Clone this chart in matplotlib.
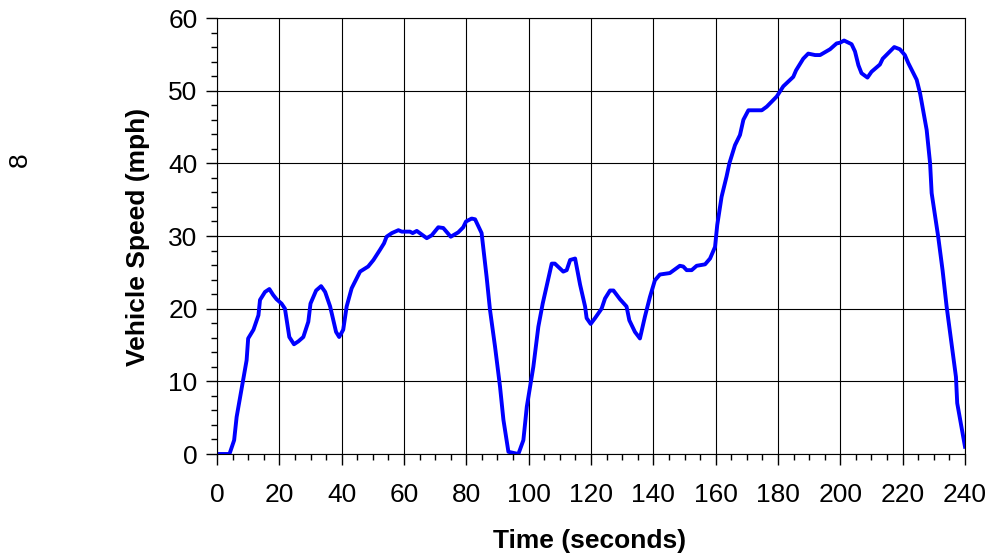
import matplotlib
matplotlib.use("Agg")
import matplotlib.pyplot as plt
from matplotlib.ticker import MultipleLocator

plt.rcParams['font.family'] = ['Liberation Sans', 'DejaVu Sans']

time_s = [0, 4, 5.5, 6.3, 9.5, 10, 11.7, 13.3, 13.8, 15.4, 16.8, 18, 19.1, 20.7, 21.8,
          23.2, 24.7, 26.1, 27.7, 29.3, 30, 31.8, 33.4, 34.7, 36.3, 38.2, 39.2, 40.5,
          41.6, 43.2, 45.9, 48.5, 50.2, 52.3, 53.6, 54.4, 56.1, 58.2, 59.3, 61.9, 62.8,
          64.1, 67.3, 68.9, 71, 72.6, 75, 77.4, 79, 79.9, 81.7, 82.8, 84.9, 86.5, 87.6,
          89.2, 90.8, 91.9, 93.5, 96.7, 98.3, 99.4, 101.5, 103.1, 104.5, 107.4, 108.4,
          111.1, 112.2, 113.3, 114.9, 116.5, 118.1, 118.6, 119.9, 121.3, 123.4, 124.5,
          126.1, 127.2, 129.3, 131.4, 132.3, 134.1, 135.7, 137.3, 138.9, 140.5, 142.1,
          145.3, 148.5, 149.6, 150.7, 152.3, 153.9, 156.6, 158.2, 159.8, 160.5, 161.9,
          163.5, 164.4, 166.2, 167.8, 168.9, 170.5, 174.8, 176.4, 179.6, 181.7, 184.9,
          185.8, 188.1, 189.7, 191.9, 193.5, 196.7, 198.8, 199.9, 201.2, 203.6, 204.7,
          205.8, 206.8, 208.7, 210, 212.7, 213.6, 217.3, 219.1, 220.7, 221.8, 224.5,
          225.6, 227.7, 228.8, 229.3, 231.4, 232.8, 234.1, 237.1, 237.5, 240]
speed_mph = [0, 0, 1.9, 5.1, 12.9, 15.9, 17.1, 19.1, 21.2, 22.3, 22.7, 21.9, 21.3, 20.7, 20,
             16.1, 15.1, 15.5, 16.1, 18.2, 20.7, 22.5, 23.1, 22.3, 20.3, 16.8, 16.1, 17.1,
             20.3, 22.8, 25.1, 25.8, 26.7, 28.1, 29, 29.9, 30.4, 30.8, 30.6, 30.6, 30.4,
             30.7, 29.7, 30.1, 31.2, 31.1, 29.9, 30.5, 31.2, 32, 32.4, 32.3, 30.4, 24.4,
             19.8, 14.8, 9.3, 4.7, 0.3, 0, 1.9, 6.5, 12, 17.5, 20.7, 26.2, 26.2, 25.1,
             25.3, 26.7, 26.9, 23.3, 20.3, 18.7, 17.9, 18.7, 20, 21.4, 22.5, 22.5, 21.3,
             20.3, 18.4, 16.8, 15.9, 18.9, 21.6, 23.9, 24.7, 24.9, 25.9, 25.8, 25.3, 25.3,
             25.9, 26.1, 26.9, 28.5, 31.5, 35.4, 38.2, 40, 42.5, 43.9, 46, 47.3, 47.3, 47.8,
             49.2, 50.6, 51.9, 52.8, 54.4, 55.1, 54.9, 54.9, 55.7, 56.5, 56.6, 56.9, 56.4,
             55.4, 53.5, 52.4, 51.8, 52.6, 53.6, 54.4, 56, 55.7, 54.9, 53.8, 51.5, 49.6,
             44.6, 40, 35.9, 29.9, 25.3, 20.3, 10.6, 7, 1]

x_ticks = list(range(0, 241, 20))
y_ticks = list(range(0, 61, 10))

fig = plt.figure(figsize=(9.87, 5.58), dpi=100)
ax = fig.add_axes([217/987, 1-454/558, (965-217)/987, (454-18)/558])

ax.plot(time_s, speed_mph, color='#0000ff', lw=2.8, solid_joinstyle='round')

ax.set_xlim(0, 240)
ax.set_ylim(0, 60)
ax.set_xticks(x_ticks)
ax.set_yticks(y_ticks)
ax.xaxis.set_minor_locator(MultipleLocator(5))
ax.yaxis.set_minor_locator(MultipleLocator(2))
ax.grid(True, which='major', color='black', lw=0.8)
ax.set_axisbelow(True)
for s in ax.spines.values():
    s.set_color('black')
    s.set_linewidth(0.8)

ax.tick_params(axis='both', which='major', direction='out', length=8, width=1, labelsize=19, color='black')
ax.tick_params(axis='both', which='minor', direction='out', length=4, width=1, color='black')
ax.tick_params(axis='x', which='major', pad=13)
ax.tick_params(axis='y', which='major', pad=6)

fig.text(590/987, 1-541/558, 'Time (seconds)', ha='center', va='center', fontsize=19, fontweight='bold')
fig.text(138/987, 1-237/558, 'Vehicle Speed (mph)', ha='center', va='center', fontsize=19,
         fontweight='bold', rotation=90)
fig.text(20/987, 1-160/558, '8', ha='center', va='center', fontsize=19, rotation=90)

fig.savefig('out.png', dpi=100)
